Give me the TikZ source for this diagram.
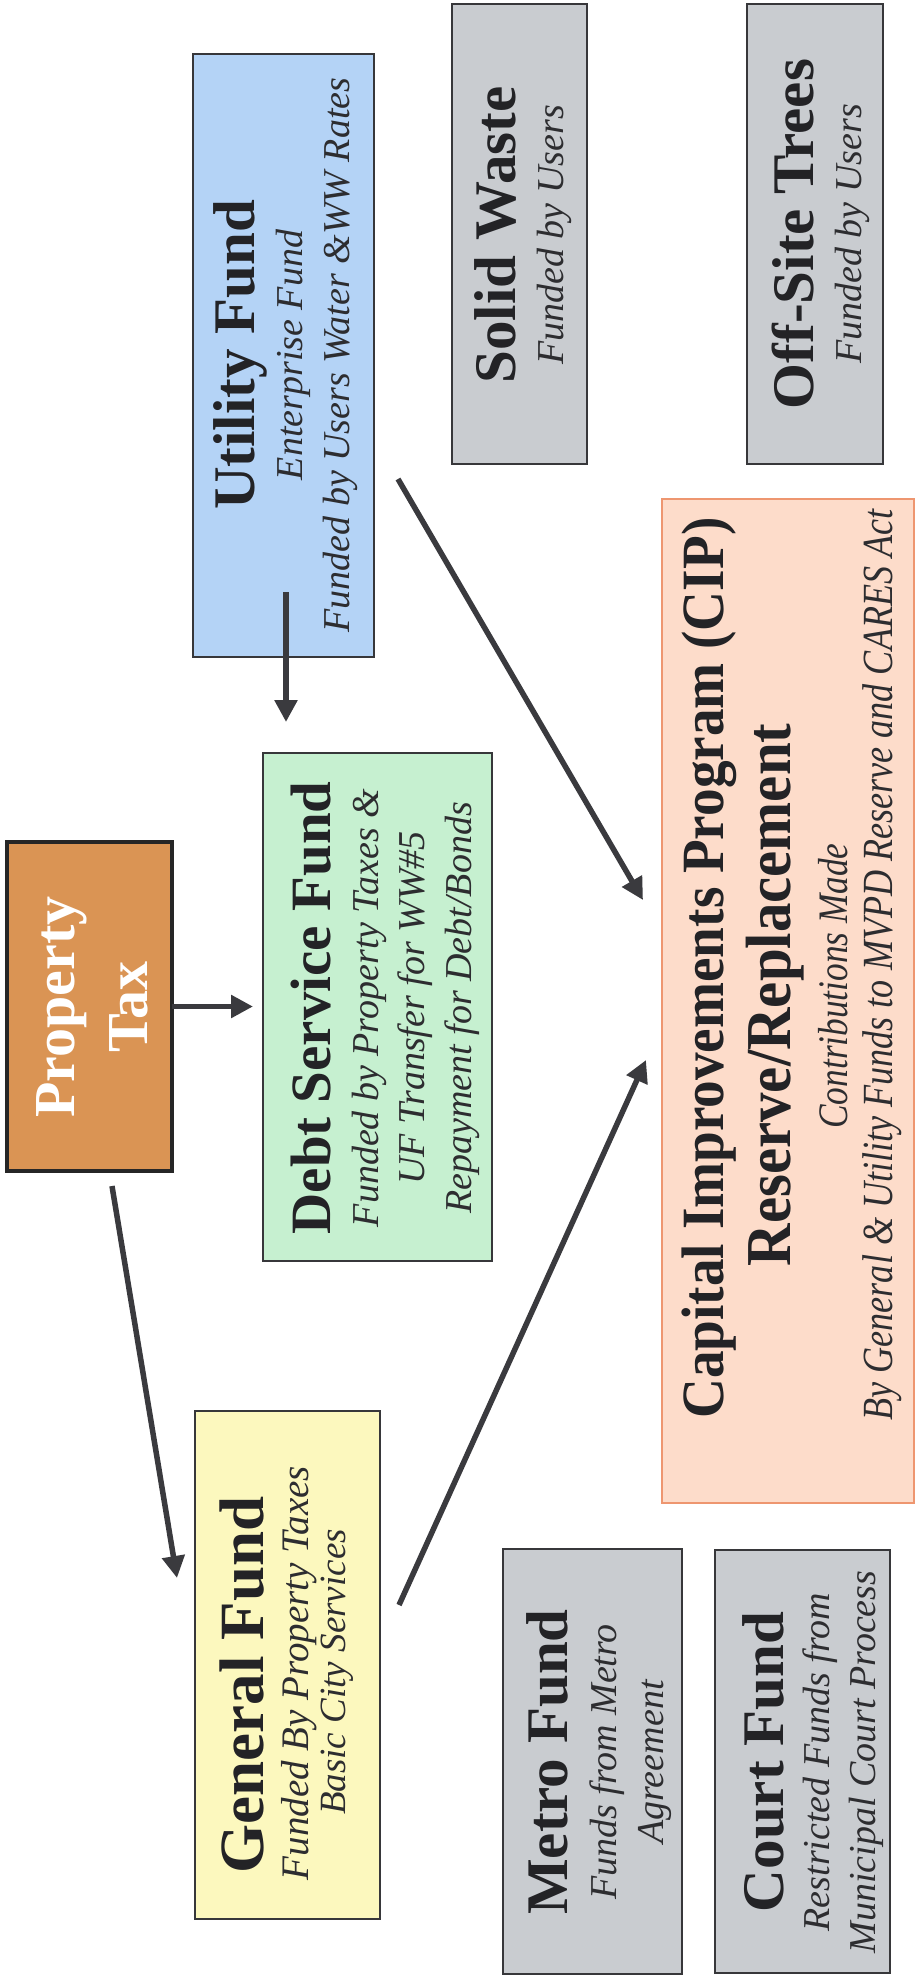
\documentclass[tikz,border=0pt]{standalone}
\usepackage{fontspec}
\setmainfont{Liberation Serif}
\newfontfamily\cipa[FakeStretch=0.92]{Liberation Serif}
\newfontfamily\cipb[FakeStretch=0.84]{Liberation Serif}
\usetikzlibrary{arrows.meta}
\definecolor{ufblue}{RGB}{180,211,246}
\definecolor{grayfill}{RGB}{201,204,208}
\definecolor{ptorange}{RGB}{218,148,84}
\definecolor{dsgreen}{RGB}{198,240,208}
\definecolor{cipfill}{RGB}{253,220,202}
\definecolor{cipline}{RGB}{238,150,112}
\definecolor{gfyellow}{RGB}{252,248,190}
\definecolor{boxline}{RGB}{55,55,58}
\definecolor{arrcol}{RGB}{58,58,62}
\definecolor{txtdark}{RGB}{35,35,38}
\definecolor{txtsub}{RGB}{45,45,48}
\tikzset{
  fundbox/.style={draw=boxline, line width=1.8pt, inner sep=0pt, outer sep=0pt},
  ttl/.style={rotate=90, inner sep=0pt, text=txtdark, font=\fontsize{59}{65}\selectfont\bfseries},
  subl/.style={rotate=90, inner sep=0pt, text=txtsub, font=\fontsize{38}{44}\selectfont\itshape},
  arr/.style={draw=arrcol, line width=5.5pt, -{Triangle[width=22pt,length=22pt]}},
}
\begin{document}
\begin{tikzpicture}[x=1pt,y=-1pt]
\useasboundingbox (0,0) rectangle (916,1980);
\fill[white] (0,0) rectangle (916,1980);

% ---------- boxes ----------
\node[fundbox, fill=ufblue, minimum width=181pt, minimum height=603pt] (uf) at (283.5,355.5) {};
\node[fundbox, fill=grayfill, minimum width=135pt, minimum height=460pt] (sw) at (519.5,234) {};
\node[fundbox, fill=grayfill, minimum width=136pt, minimum height=460pt] (ot) at (815,234) {};
\node[fundbox, fill=ptorange, draw=black!85, line width=4pt, minimum width=165pt, minimum height=329pt] (pt) at (89.5,1006.5) {};
\node[fundbox, fill=dsgreen, minimum width=229pt, minimum height=508pt] (ds) at (377.5,1007) {};
\node[fundbox, fill=cipfill, draw=cipline, line width=2.2pt, minimum width=252pt, minimum height=1004pt] (cip) at (788,1001) {};
\node[fundbox, fill=gfyellow, minimum width=185pt, minimum height=508pt] (gf) at (287.5,1665) {};
\node[fundbox, fill=grayfill, minimum width=179pt, minimum height=425pt] (mf) at (592.5,1761.5) {};
\node[fundbox, fill=grayfill, minimum width=175pt, minimum height=423pt] (cf) at (802.5,1761.5) {};

% ---------- texts ----------
\node[ttl] (uf1) at (240,355) {Utility Fund};
\node[subl] (uf2) at (293,355) {Enterprise Fund};
\node[subl] (uf3) at (340,355) {Funded by Users Water \&WW Rates};

\node[ttl] (sw1) at (495,235) {Solid Waste};
\node[subl] (sw2) at (554,235) {Funded by Users};

\node[ttl] (ot1) at (793,234) {Off-Site Trees};
\node[subl] (ot2) at (852,234) {Funded by Users};

\node[ttl, text=white, font=\fontsize{58}{64}\selectfont\bfseries] (pt1) at (62,1007) {Property};
\node[ttl, text=white, font=\fontsize{58}{64}\selectfont\bfseries] (pt2) at (129,1007) {Tax};

\node[ttl, font=\fontsize{57}{63}\selectfont\bfseries] (ds1) at (311,1008) {Debt Service Fund};
\node[subl] (ds2) at (369,1008) {Funded by Property Taxes \&};
\node[subl] (ds3) at (415,1008) {UF Transfer for WW\#5};
\node[subl] (ds4) at (462,1008) {Repayment for Debt/Bonds};

\node[ttl, font=\fontsize{60}{66}\cipa\bfseries] (cip1) at (709,968) {Capital Improvements Program (CIP)};
\node[ttl, font=\fontsize{64}{70}\cipa\bfseries] (cip2) at (775,995) {Reserve/Replacement};
\node[subl, font=\fontsize{42}{48}\cipb\itshape] (cip3) at (833,986) {Contributions Made};
\node[subl, font=\fontsize{43}{48}\cipb\itshape] (cip4) at (882,965) {By General \& Utility Funds to MVPD Reserve and CARES Act};

\node[ttl, font=\fontsize{63}{69}\selectfont\bfseries] (gf1) at (242,1685) {General Fund};
\node[subl, font=\fontsize{39}{45}\selectfont\itshape] (gf2) at (299,1673) {Funded By Property Taxes};
\node[subl, font=\fontsize{37}{43}\selectfont\itshape] (gf3) at (337,1672) {Basic City Services};

\node[ttl] (mf1) at (547,1762) {Metro Fund};
\node[subl] (mf2) at (607,1762) {Funds from Metro};
\node[subl] (mf3) at (655,1762) {Agreement};

\node[ttl] (cf1) at (763,1762) {Court Fund};
\node[subl] (cf2) at (820,1762) {Restricted Funds from};
\node[subl] (cf3) at (866,1762) {Municipal Court Process};

% ---------- connectors ----------
\coordinate (a1s) at (286,592);
\coordinate (a1e) at (286,722);
\coordinate (a3s) at (112,1186);
\coordinate (a3e) at (177,1578);
\coordinate (a4s) at (398,479);
\coordinate (a4e) at (643,900);
\coordinate (a5s) at (399,1605);
\coordinate (a5e) at (646,1060);

\draw[arr] (a1s) -- (a1e);
\draw[arr, shorten >=10pt] (pt.east) -- (pt.east -| ds.west);
\draw[arr] (a3s) -- (a3e);
\draw[arr] (a4s) -- (a4e);
\draw[arr] (a5s) -- (a5e);
\end{tikzpicture}
\end{document}
